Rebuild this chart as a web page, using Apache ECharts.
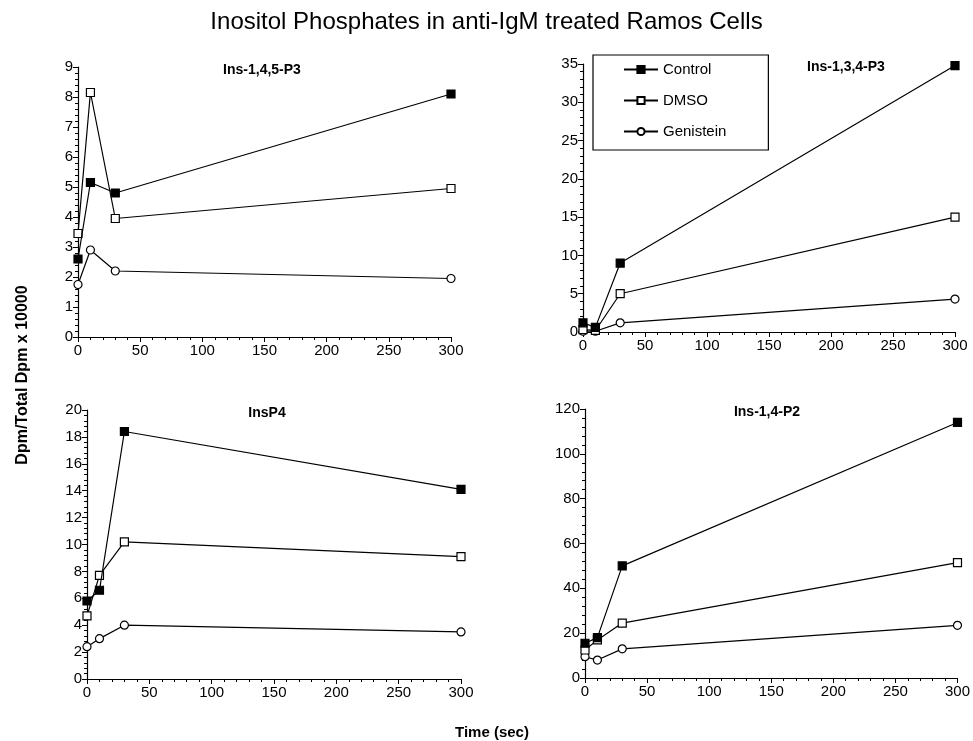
<!DOCTYPE html>
<html>
<head>
<meta charset="utf-8">
<script src="https://cdn.jsdelivr.net/npm/echarts@6/dist/echarts.min.js"></script>
<style>
  html, body { margin: 0; padding: 0; background: #fff; }
  #chart { width: 973px; height: 741px; }
</style>
</head>
<body>
<div id="chart"></div>
<script>
// time points (sec)
var times = [0, 10, 30, 300];

// Ins-1,4,5-P3
var p145Control = [2.6, 5.15, 4.8, 8.1];
var p145Dmso = [3.45, 8.15, 3.95, 4.95];
var p145Gen = [1.75, 2.9, 2.2, 1.95];

// Ins-1,3,4-P3
var p134Control = [1.2, 0.6, 9.0, 34.8];
var p134Dmso = [0.3, 0.2, 5.0, 15.0];
var p134Gen = [0.1, 0.1, 1.2, 4.3];

// InsP4
var p4Control = [5.8, 6.6, 18.4, 14.1];
var p4Dmso = [4.7, 7.7, 10.2, 9.1];
var p4Gen = [2.4, 3.0, 4.0, 3.5];

// Ins-1,4-P2
var p2Control = [15.5, 18, 50, 114];
var p2Dmso = [12.5, 17, 24.5, 51.5];
var p2Gen = [9.5, 8, 13, 23.5];

var panelTitles = ["Ins-1,4,5-P3", "Ins-1,3,4-P3", "InsP4", "Ins-1,4-P2"];
var yMax = [9, 35, 20, 120];
var yStep = [1, 5, 2, 20];

var font = "Liberation Sans";

function pairs(ys) {
  return times.map(function (t, i) { return [t, ys[i]]; });
}

var grids = [
  { left: 78, top: 67, width: 373, height: 270 },
  { left: 583, top: 64, width: 372, height: 268 },
  { left: 87, top: 410, width: 374, height: 269 },
  { left: 585, top: 409, width: 373, height: 269 }
];

var axisLine = { lineStyle: { color: "#000", width: 1.2 } };

var xAxes = grids.map(function (g, i) {
  return {
    type: "value", gridIndex: i, min: 0, max: 300, interval: 50,
    axisLine: axisLine,
    axisTick: { show: true, length: 5, lineStyle: { color: "#000" } },
    minorTick: { show: true, splitNumber: 5, length: 3, lineStyle: { color: "#000" } },
    splitLine: { show: false },
    axisLabel: { color: "#000", fontFamily: font, fontSize: 15, margin: 6 }
  };
});

var yAxes = grids.map(function (g, i) {
  return {
    type: "value", gridIndex: i, min: 0, max: yMax[i], interval: yStep[i],
    axisLine: axisLine,
    axisTick: { show: true, length: 5, lineStyle: { color: "#000" } },
    minorTick: { show: true, splitNumber: 5, length: 3, lineStyle: { color: "#000" } },
    splitLine: { show: false },
    axisLabel: { color: "#000", fontFamily: font, fontSize: 15, margin: 5 }
  };
});

var panelData = [
  [p145Control, p145Dmso, p145Gen],
  [p134Control, p134Dmso, p134Gen],
  [p4Control, p4Dmso, p4Gen],
  [p2Control, p2Dmso, p2Gen]
];

var styles = [
  { name: "Control", symbol: "rect", size: 8, fill: "#000" },
  { name: "DMSO", symbol: "rect", size: 8, fill: "#fff" },
  { name: "Genistein", symbol: "circle", size: 8, fill: "#fff" }
];

var series = [];
panelData.forEach(function (set, i) {
  set.forEach(function (ys, k) {
    var s = styles[k];
    series.push({
      name: s.name,
      type: "line",
      xAxisIndex: i,
      yAxisIndex: i,
      data: pairs(ys),
      symbol: s.symbol,
      symbolSize: s.size,
      showAllSymbol: true,
      lineStyle: { color: "#000", width: 1.2 },
      itemStyle: { color: s.fill, borderColor: "#000", borderWidth: 1.2 },
      emphasis: { disabled: true },
      z: 3 - k
    });
  });
});

var titles = [{
  text: "Inositol Phosphates in anti-IgM treated Ramos Cells",
  left: "center", top: 5,
  textStyle: { fontFamily: font, fontSize: 24, fontWeight: "normal", color: "#000" }
}];
var titlePos = [[257, 58], [841, 55], [262, 401], [762, 400]];
panelTitles.forEach(function (t, i) {
  titles.push({
    text: t, left: titlePos[i][0], top: titlePos[i][1], textAlign: "center",
    textStyle: { fontFamily: font, fontSize: 14, fontWeight: "bold", color: "#000" }
  });
});

var chart = echarts.init(document.getElementById("chart"));
chart.setOption({
  animation: false,
  backgroundColor: "#fff",
  title: titles,
  legend: {
    data: ["Control", "DMSO", "Genistein"],
    orient: "vertical",
    left: 593, top: 55,
    padding: [7, 42, 11, 30],
    itemWidth: 34, itemHeight: 9, itemGap: 16,
    borderColor: "#000", borderWidth: 1.2,
    textStyle: { fontFamily: font, fontSize: 15, color: "#000" },
    selectedMode: false
  },
  grid: grids,
  xAxis: xAxes,
  yAxis: yAxes,
  graphic: [
    {
      type: "text", x: 23, y: 375, rotation: Math.PI / 2,
      style: { text: "Dpm/Total Dpm x 10000", font: "bold 16px " + font, fill: "#000", textAlign: "center", textVerticalAlign: "middle" }
    },
    {
      type: "text", x: 492, y: 733,
      style: { text: "Time (sec)", font: "bold 15px " + font, fill: "#000", textAlign: "center", textVerticalAlign: "middle" }
    }
  ],
  series: series
});
</script>
</body>
</html>
